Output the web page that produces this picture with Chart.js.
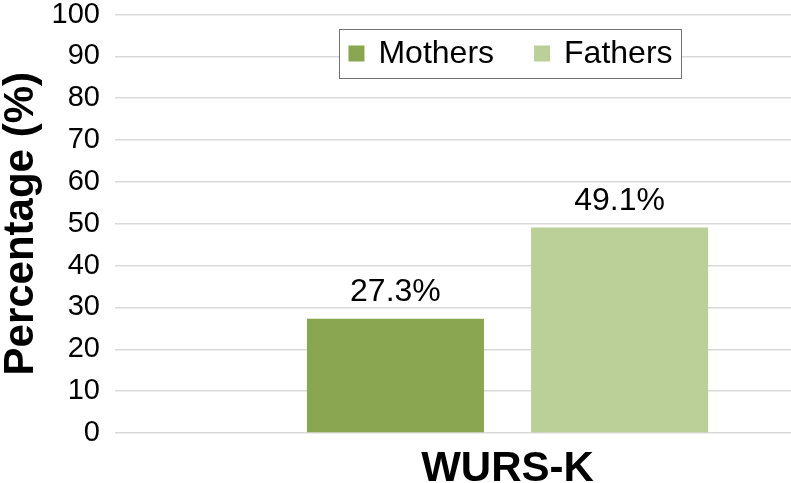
<!DOCTYPE html>
<html>
<head>
<meta charset="utf-8">
<script src="https://cdn.jsdelivr.net/npm/chart.js@4"></script>
<style>
  html, body { margin: 0; padding: 0; background: #fff; overflow: hidden; }
  #wrap { width: 791px; height: 483px; overflow: hidden; }
</style>
</head>
<body>
<div id="wrap"><canvas id="chart" width="900" height="483"></canvas></div>
<script>
const categories = ['WURS-K'];
const mothers = [27.3];
const fathers = [49.1];
const yMin = 0, yMax = 100, yStep = 10;

const FONT = "'Liberation Sans', Arial, sans-serif";

// legend in a box floating over the plot, like the original
const boxedLegend = {
  id: 'boxedLegend',
  afterDraw(chart) {
    const c = chart.ctx, area = chart.chartArea;
    const sets = chart.data.datasets;
    c.save();
    c.font = '32px ' + FONT;
    const sw = 16, gap = 14, between = 40, pad = 9;
    let total = pad * 2;
    sets.forEach((d, i) => {
      total += sw + gap + c.measureText(d.label).width;
      if (i < sets.length - 1) total += between;
    });
    const cx = (area.left + area.right) / 2 + 3;
    const top = 29, h = 49;
    let x = cx - total / 2;
    c.fillStyle = '#fff';
    c.fillRect(x, top, total, h);
    c.strokeStyle = '#707070';
    c.lineWidth = 1;
    c.strokeRect(Math.round(x) + 0.5, top + 0.5, Math.round(total), h);
    x += pad;
    const mid = top + h / 2;
    sets.forEach((d, i) => {
      c.fillStyle = d.backgroundColor;
      c.fillRect(x, mid - 8, sw, sw);
      x += sw + gap;
      c.fillStyle = '#000';
      c.textBaseline = 'middle';
      c.textAlign = 'left';
      c.fillText(d.label, x, mid + 1);
      x += c.measureText(d.label).width + between;
    });
    c.restore();
  }
};

const valueLabels = {
  id: 'valueLabels',
  afterDatasetsDraw(chart) {
    const c = chart.ctx;
    c.save();
    c.font = '32px ' + FONT;
    c.fillStyle = '#000';
    c.textAlign = 'center';
    c.textBaseline = 'alphabetic';
    chart.data.datasets.forEach((d, i) => {
      chart.getDatasetMeta(i).data.forEach((bar, j) => {
        c.fillText(d.data[j].toFixed(1) + '%', bar.x, bar.y - 18);
      });
    });
    c.restore();
  }
};

new Chart(document.getElementById('chart'), {
  type: 'bar',
  data: {
    labels: categories,
    datasets: [
      { label: 'Mothers', data: mothers, backgroundColor: '#8aa650' },
      { label: 'Fathers', data: fathers, backgroundColor: '#bbd098' }
    ]
  },
  options: {
    responsive: false,
    animation: false,
    layout: { padding: 0 },
    datasets: { bar: { barPercentage: 0.79, categoryPercentage: 0.571 } },
    plugins: { legend: { display: false }, tooltip: { enabled: false } },
    scales: {
      x: {
        grid: { display: false },
        border: { display: false },
        ticks: { color: '#000', padding: 7, font: { family: FONT, size: 42, weight: 'bold', lineHeight: 1 } },
        afterFit: s => { s.height = 50; }
      },
      y: {
        min: yMin, max: yMax,
        grid: { color: '#d9d9d9', lineWidth: 1.5, drawTicks: true, tickLength: 15, tickColor: 'rgba(0,0,0,0)' },
        border: { display: false },
        ticks: { stepSize: yStep, color: '#000', padding: 0, font: { family: FONT, size: 29, lineHeight: 1 } },
        title: {
          display: true, text: 'Percentage (%)', color: '#000', padding: 0,
          font: { family: FONT, size: 42, weight: 'bold', lineHeight: 1 }
        },
        afterFit: s => { s.width = 115; }
      }
    }
  },
  plugins: [boxedLegend, valueLabels]
});
</script>
</body>
</html>
